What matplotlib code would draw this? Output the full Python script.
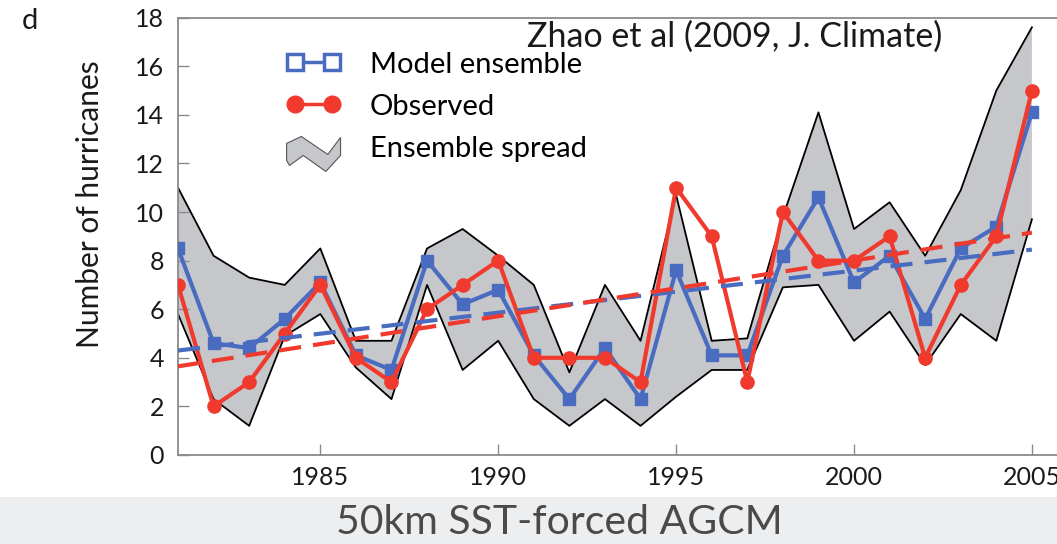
import numpy as np
import matplotlib
matplotlib.use("Agg")
import matplotlib.pyplot as plt
from matplotlib.lines import Line2D
from matplotlib.patches import Polygon, Rectangle
from matplotlib.legend_handler import HandlerPatch

plt.rcParams['font.family'] = ['Lato', 'DejaVu Sans']

# Atlantic hurricane counts, 1981-2005
years = np.arange(1981, 2006)
observed = [7, 2, 3, 5, 7, 4, 3, 6, 7, 8, 4, 4, 4, 3, 11, 9, 3, 10, 8, 8, 9, 4, 7, 9, 15]
model_mean = [8.5, 4.6, 4.4, 5.6, 7.1, 4.1, 3.5, 8.0, 6.2, 6.8, 4.1, 2.3, 4.4, 2.3, 7.6,
              4.1, 4.1, 8.2, 10.6, 7.1, 8.2, 5.6, 8.5, 9.4, 14.1]
spread_max = [11.0, 8.2, 7.3, 7.0, 8.5, 4.7, 4.7, 8.5, 9.3, 8.2, 7.0, 3.4, 7.0, 4.7, 10.7,
              4.7, 4.8, 9.8, 14.1, 9.3, 10.4, 8.2, 10.9, 15.0, 17.6]
spread_min = [5.8, 2.3, 1.2, 4.9, 5.8, 3.6, 2.3, 7.0, 3.5, 4.7, 2.3, 1.2, 2.3, 1.2, 2.4,
              3.5, 3.5, 6.9, 7.0, 4.7, 5.9, 3.7, 5.8, 4.7, 9.7]
xticks = [1985, 1990, 1995, 2000, 2005]
yticks = list(range(0, 19, 2))

BLUE = '#4a6cc0'
RED = '#f03a2e'
GREY = '#c6c7ca'
SPINE = '#8a8a8a'
TXT = '#1a1a1a'

# zigzag legend key outline, (x, y) in pixels from the left edge / row centre
ZIGZAG = [(0, 3), (15, 10), (42, -8), (55, 9), (55, -9), (40, -25), (17, -9), (3, -19), (0, -14)]


class HandlerZigzag(HandlerPatch):
    """Draws a small grey zigzag band as the legend key."""
    def create_artists(self, legend, orig_handle, xdescent, ydescent,
                       width, height, fontsize, trans):
        pts = np.array(ZIGZAG, dtype=float) * 0.72
        pts[:, 0] *= width / (55 * 0.72)
        pts[:, 0] += -xdescent
        pts[:, 1] += height / 2 - ydescent
        p = Polygon(pts, closed=True, facecolor=GREY, edgecolor='#555555',
                    lw=0.8, transform=trans)
        return [p]


fig = plt.figure(figsize=(10.57, 5.44), dpi=100)
fig.patch.set_facecolor('white')

# grey caption band along the bottom
fig.patches.append(Rectangle((0, 0), 1, 47 / 544, transform=fig.transFigure,
                             facecolor='#eceef0', edgecolor='none', zorder=0))
fig.text(0.529, 21 / 544, '50km SST-forced AGCM', ha='center', va='center',
         fontsize=29.5, color='#4a4a4a', fontweight='normal')

ax = fig.add_axes([178 / 1057, 89 / 544, 879 / 1057, 437.4 / 544])

ax.fill_between(years, spread_min, spread_max, facecolor=GREY, edgecolor='none', zorder=1)
ax.plot(years, spread_max, color='black', lw=1.3, zorder=2)
ax.plot(years, spread_min, color='black', lw=1.3, zorder=2)

ax.plot(years, model_mean, color=BLUE, lw=3, marker='s', ms=8.5,
        mfc=BLUE, mec=BLUE, zorder=3)
ax.plot(years, observed, color=RED, lw=3, marker='o', ms=9.5,
        mfc=RED, mec=RED, zorder=4)

# linear trends
for series, c, z in [(model_mean, BLUE, 5), (observed, RED, 5)]:
    k, b = np.polyfit(years, series, 1)
    ax.plot(years, k * years + b, color=c, lw=3, linestyle=(0, (5.3, 2.9)), zorder=z)

ax.set_xlim(1981, 1981 + 879 / 35.58)
ax.set_ylim(0, 18)
ax.set_xticks(xticks)
ax.set_yticks(yticks)
ax.tick_params(direction='in', length=8, width=1, color=SPINE,
               labelsize=18, labelcolor=TXT, pad=8)
ax.tick_params(axis='y', pad=10)
for side in ['left', 'bottom', 'top']:
    ax.spines[side].set_color(SPINE)
    ax.spines[side].set_linewidth(1.3)
ax.spines['right'].set_visible(False)
ax.set_ylabel('Number of hurricanes', fontsize=21.5, color=TXT)
ax.yaxis.set_label_coords(-74 / 879, 0.574)

handles = [
    Line2D([], [], color=BLUE, lw=2.5, marker='s', ms=11, mfc='white', mec=BLUE, mew=2.5),
    Line2D([], [], color=RED, lw=2.5, marker='o', ms=12, mfc=RED, mec=RED),
    Polygon([[0, 0]], facecolor=GREY),
]
labels = ['Model ensemble', 'Observed', 'Ensemble spread']
fig.legend(handles, labels, loc='upper left', bbox_to_anchor=(272 / 1057, 1 - 37 / 544),
           frameon=False, fontsize=21, numpoints=2, handlelength=1.85,
           handletextpad=1.0, labelspacing=0.55, borderpad=0,
           handler_map={Polygon: HandlerZigzag()})

fig.text(527 / 1057, 1 - 37 / 544, 'Zhao et al (2009, J. Climate)', ha='left',
         va='center', fontsize=24.5, color=TXT)
fig.text(22 / 1057, 1 - 21 / 544, 'd', ha='left', va='center', fontsize=21, color=TXT)

fig.savefig('out.png', dpi=100)
